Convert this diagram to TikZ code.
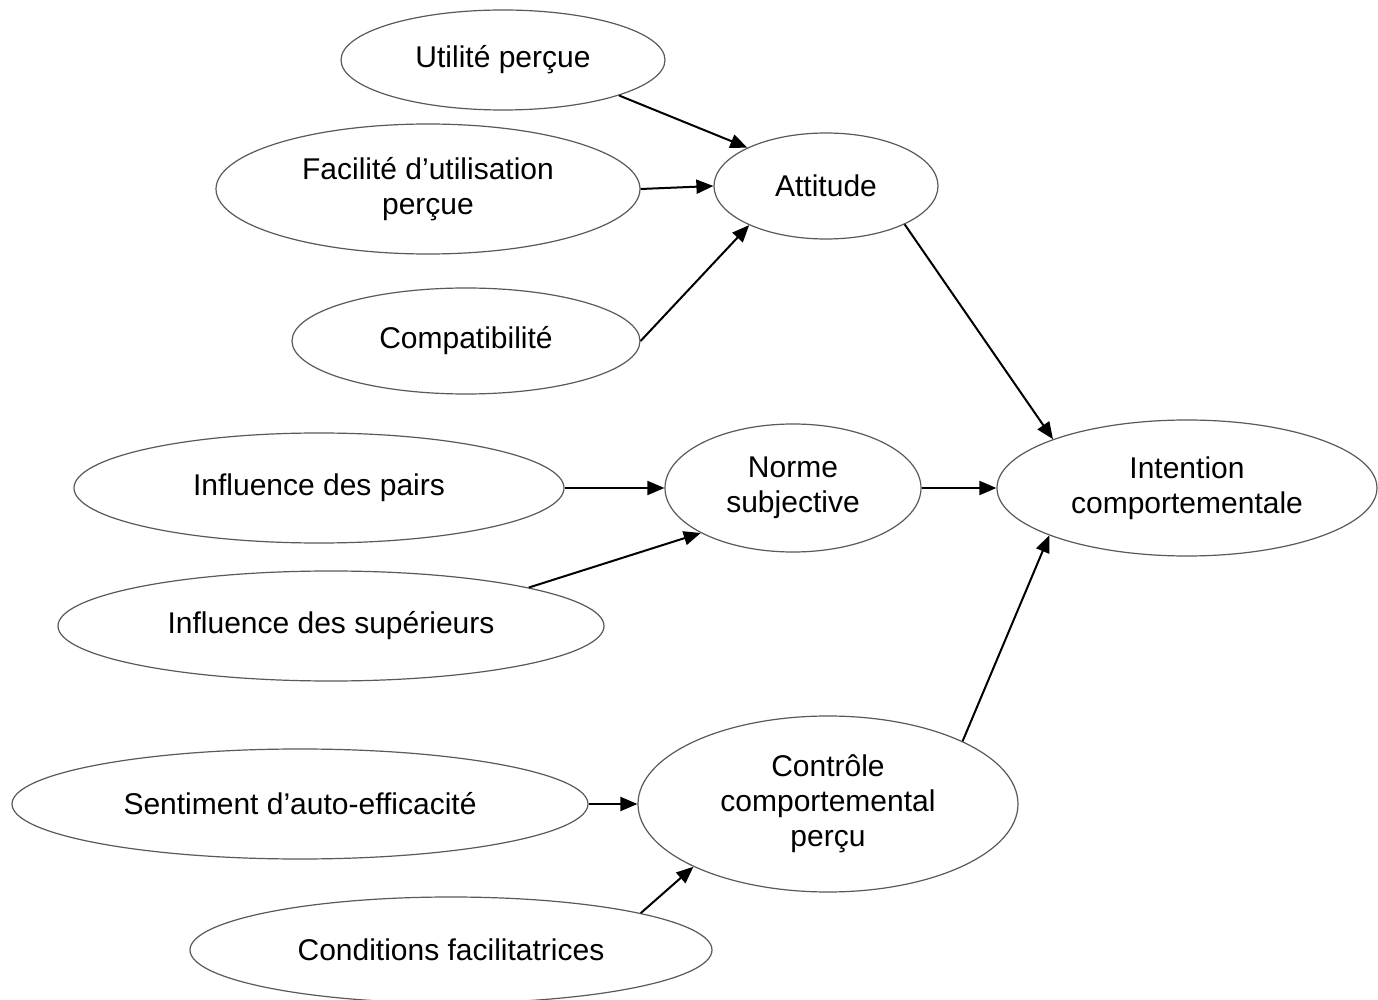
\documentclass[tikz,border=0pt]{standalone}
\usepackage{fontspec}
\setmainfont{Liberation Sans}
\usetikzlibrary{shapes.geometric,arrows.meta}
\begin{document}
\begin{tikzpicture}[x=0.5pt,y=-0.5pt,
  ell/.style={ellipse,draw=black!65,line width=0.6pt,inner sep=0pt,align=center,
    font=\fontsize{15}{17.5}\selectfont},
  arr/.style={line width=1pt,-{Triangle[length=8.5pt,width=7pt]}}]
\clip (0,0) rectangle (1378,1000);
\fill[white] (0,0) rectangle (1378,1000);
\node[ell,minimum width=162pt,minimum height=50pt] (ut) at (503,60) {Utilité perçue};
\node[ell,minimum width=212pt,minimum height=65pt] (fa) at (428,189) {Facilité d’utilisation\\perçue};
\node[ell,minimum width=174pt,minimum height=53pt] (co) at (466,341) {Compatibilité};
\node[ell,minimum width=112pt,minimum height=53pt] (at) at (826,186) {Attitude};
\node[ell,minimum width=245pt,minimum height=55pt] (pa) at (319,488) {Influence des pairs};
\node[ell,minimum width=273pt,minimum height=55pt] (su) at (331,626) {Influence des supérieurs};
\node[ell,minimum width=128pt,minimum height=64pt] (no) at (793,488) {Norme\\subjective};
\node[ell,minimum width=190pt,minimum height=68pt] (in) at (1187,488) {Intention\\comportementale};
\node[ell,minimum width=288pt,minimum height=55pt] (se) at (300,804) {Sentiment d’auto-efficacité};
\node[ell,minimum width=190pt,minimum height=88pt] (cc) at (828,804) {Contrôle\\comportemental\\perçu};
\node[ell,minimum width=261pt,minimum height=53pt] (cf) at (451,950) {Conditions facilitatrices};
\draw[arr] (ut.-17.5) -- (at.154);
\draw[arr] (fa.east) -- (at.west);
\draw[arr] (co.east) -- (at.207);
\draw[arr] (at.-26) -- (in.160);
\draw[arr] (pa.east) -- (no.west);
\draw[arr] (su.11.7) -- (no.206.6);
\draw[arr] (no.east) -- (in.west);
\draw[arr] (se.east) -- (cc.west);
\draw[arr] (cf.11.6) -- (cc.205);
\draw[arr] (cc.25) -- (in.199.5);
\end{tikzpicture}
\end{document}
